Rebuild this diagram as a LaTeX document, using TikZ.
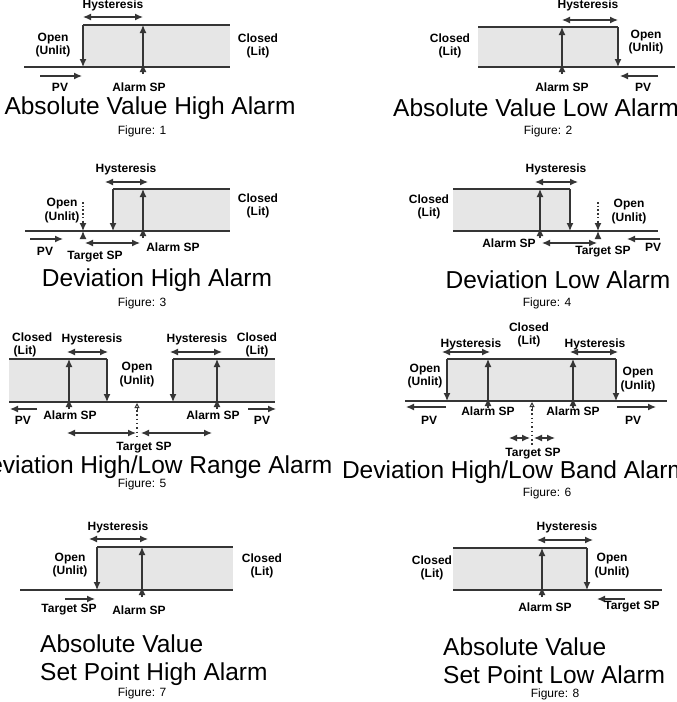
\documentclass[tikz,border=0pt]{standalone}
\usepackage{fontspec}
\setmainfont{Liberation Sans}
\usetikzlibrary{arrows.meta}
\definecolor{linegray}{HTML}{353535}
\definecolor{boxgray}{HTML}{E6E6E6}
\def\dline{\draw[line width=1.3pt,linegray]}
\def\darr{\draw[line width=1.3pt,linegray,-{Latex[length=8pt,width=7pt]}]}
\def\dhys{\draw[line width=1.3pt,linegray,{Latex[length=8pt,width=7pt]}-{Latex[length=8pt,width=7pt]}]}
\def\dbox{\fill[boxgray]}
% alarm SP: up from under the base line to the top
\newcommand\alarmsp[3]{\darr (#1,#2+7) -- (#1,#2-3); \darr (#1,#2) -- (#1,#3);}
% target SP on the base line
\newcommand\targetsp[2]{\draw[line width=1.3pt,linegray,dash pattern=on 1.5pt off 2.2pt] (#1,#2-29) -- (#1,#2-9);
  \darr (#1,#2-9) -- (#1,#2); \darr (#1,#2+7) -- (#1,#2);}
% open target mark under the base line
\newcommand\opentarget[3]{\draw[line width=1pt,linegray,-{Triangle[open,length=5pt,width=5pt]}] (#1,#2+8) -- (#1,#2+1);
  \draw[line width=1.3pt,linegray,dash pattern=on 1.5pt off 2.8pt] (#1,#2+8) -- (#1,#3);}
\begin{document}
\begin{tikzpicture}[x=1pt,y=-1pt,
    lbl/.style={font=\bfseries\fontsize{12}{13.5}\selectfont,inner sep=0pt,align=center},
    ttl/.style={font=\fontsize{24.5}{28}\selectfont,inner sep=0pt},
    fig/.style={font=\fontsize{12}{14}\selectfont,inner sep=0pt}]
\useasboundingbox[fill=white] (0,0) rectangle (677,702);

% Figure 1
\dbox (83,25) rectangle (230,67);
\dline (83,25) -- (230,25);
\dline (24,67) -- (230,67);
\darr (83,25) -- (83,67);
\alarmsp{143}{67}{25}
\dhys (83,17) -- (143,17);
\darr (40,76) -- (82,76);
\node[lbl] (hys1) at (113,5) {Hysteresis};
\node[lbl] (open1) at (53,45) {Open\\(Unlit)};
\node[lbl] (closed1) at (258,46) {Closed\\(Lit)};
\node[lbl] (pv1) at (60,87) {PV};
\node[lbl] (alarm1) at (139,87) {Alarm SP};
\node[ttl] (title1) at (150,108) {Absolute Value High Alarm};
\node[fig] (fig1) at (142,131) {Figure: 1};

% Figure 2
\dbox (478,27) rectangle (618,67);
\dline (478,27) -- (618,27);
\dline (478,67) -- (675,67);
\darr (618,27) -- (618,67);
\alarmsp{562}{67}{27}
\dhys (562,20) -- (618,20);
\darr (658,76) -- (620,76);
\node[lbl] (hys2) at (588,5) {Hysteresis};
\node[lbl] (closed2) at (450,46) {Closed\\(Lit)};
\node[lbl] (open2) at (646,42) {Open\\(Unlit)};
\node[lbl] (pv2) at (643,87) {PV};
\node[lbl] (alarm2) at (562,87) {Alarm SP};
\node[ttl] (title2) at (536,108) {Absolute Value Low Alarm};
\node[fig] (fig2) at (548,131) {Figure: 2};

% Figure 3
\dbox (113,189) rectangle (230,231);
\dline (113,189) -- (230,189);
\dline (25,231) -- (230,231);
\darr (113,189) -- (113,231);
\alarmsp{143}{231}{189}
\targetsp{83}{231}
\dhys (105,182) -- (148,182);
\dhys (85,243) -- (140,243);
\darr (30,239) -- (63,239);
\node[lbl] (hys3) at (126,169) {Hysteresis};
\node[lbl] (open3) at (62,210.5) {Open\\(Unlit)};
\node[lbl] (closed3) at (258,206) {Closed\\(Lit)};
\node[lbl] (pv3) at (45,251) {PV};
\node[lbl] (target3) at (95,257) {Target SP};
\node[lbl] (alarm3) at (173,247) {Alarm SP};
\node[ttl] (title3) at (157,280) {Deviation High Alarm};
\node[fig] (fig3) at (142,303) {Figure: 3};

% Figure 4
\dbox (453,189) rectangle (570,231);
\dline (453,189) -- (570,189);
\dline (453,231) -- (658,231);
\darr (570,189) -- (570,231);
\alarmsp{540}{231}{189}
\targetsp{598}{231}
\dhys (535,182) -- (578,182);
\dhys (542,243) -- (597,243);
\darr (660,239) -- (627,239);
\node[lbl] (hys4) at (556,169) {Hysteresis};
\node[lbl] (closed4) at (429,207) {Closed\\(Lit)};
\node[lbl] (open4) at (629,211.5) {Open\\(Unlit)};
\node[lbl] (alarm4) at (509,243) {Alarm SP};
\node[lbl] (target4) at (603,252) {Target SP};
\node[lbl] (pv4) at (653,247) {PV};
\node[ttl] (title4) at (558,280) {Deviation Low Alarm};
\node[fig] (fig4) at (547,303) {Figure: 4};

% Figure 5
\dbox (9,359) rectangle (107,402);
\dbox (173,359) rectangle (275,402);
\dline (9,359) -- (107,359);
\dline (173,359) -- (275,359);
\dline (9,402) -- (275,402);
\darr (107,359) -- (107,402);
\darr (173,359) -- (173,402);
\alarmsp{69}{402}{359}
\alarmsp{217}{402}{359}
\opentarget{137}{402}{438}
\dhys (67,352) -- (108,352);
\dhys (170,352) -- (222,352);
\dhys (67,433) -- (136,433);
\dhys (141,433) -- (212,433);
\darr (37,409) -- (10,409);
\darr (248,409) -- (276,409);
\node[lbl,align=left,anchor=west] (closed5a) at (12,345) {Closed\\\hspace{1.5pt}(Lit)};
\node[lbl] (closed5b) at (257,345) {Closed\\(Lit)};
\node[lbl] (hys5a) at (92,339) {Hysteresis};
\node[lbl] (hys5b) at (197,339) {Hysteresis};
\node[lbl] (open5) at (137,374.5) {Open\\(Unlit)};
\node[lbl] (alarm5a) at (70,415) {Alarm SP};
\node[lbl] (alarm5b) at (213,415) {Alarm SP};
\node[lbl] (pv5a) at (23,420) {PV};
\node[lbl] (pv5b) at (262,420) {PV};
\node[lbl] (target5) at (144,448) {Target SP};
\node[ttl] (title5) at (152,467) {Deviation High/Low Range Alarm};
\node[fig] (fig5) at (142,484) {Figure: 5};

% Figure 6
\dbox (447,359) rectangle (616,401);
\dline (447,359) -- (616,359);
\dline (405,401) -- (667,401);
\darr (447,359) -- (447,401);
\darr (616,359) -- (616,401);
\alarmsp{488}{401}{359}
\alarmsp{573}{401}{359}
\opentarget{532}{401}{447}
\dhys (442,352) -- (490,352);
\dhys (570,352) -- (618,352);
\dhys (509,438) -- (530,438);
\dhys (534,438) -- (555,438);
\darr (446,407) -- (406,407);
\darr (617,407) -- (656,407);
\node[lbl] (closed6) at (529,335) {Closed\\(Lit)};
\node[lbl] (hys6a) at (471,344) {Hysteresis};
\node[lbl] (hys6b) at (595,344) {Hysteresis};
\node[lbl] (open6a) at (425,376) {Open\\(Unlit)};
\node[lbl] (open6b) at (638,379.5) {Open\\(Unlit)};
\node[lbl] (alarm6a) at (488,411) {Alarm SP};
\node[lbl] (alarm6b) at (573,411) {Alarm SP};
\node[lbl] (pv6a) at (429,420) {PV};
\node[lbl] (pv6b) at (633,420) {PV};
\node[lbl] (target6) at (533,454) {Target SP};
\node[ttl] (title6) at (515,472) {Deviation High/Low Band Alarm};
\node[fig] (fig6) at (547,493) {Figure: 6};

% Figure 7
\dbox (97,547) rectangle (233,590);
\dline (97,547) -- (233,547);
\dline (20,590) -- (233,590);
\darr (97,547) -- (97,590);
\alarmsp{142}{590}{547}
\dhys (89,539) -- (148,539);
\darr (65,599) -- (95,599);
\node[lbl] (hys7) at (118,527) {Hysteresis};
\node[lbl] (open7) at (70,565) {Open\\(Unlit)};
\node[lbl] (closed7) at (262,566) {Closed\\(Lit)};
\node[lbl] (target7) at (69,610) {Target SP};
\node[lbl] (alarm7) at (139,610) {Alarm SP};
\node[ttl,align=left,anchor=west] (title7) at (40,660) {Absolute Value\\Set Point High Alarm};
\node[fig] (fig7) at (142,693) {Figure: 7};

% Figure 8
\dbox (453,548) rectangle (587,590);
\dline (453,548) -- (587,548);
\dline (453,590) -- (662,590);
\darr (587,548) -- (587,590);
\alarmsp{542}{590}{548}
\dhys (537,540) -- (593,540);
\darr (625,599) -- (597,599);
\node[lbl] (hys8) at (567,527) {Hysteresis};
\node[lbl] (closed8) at (432,568) {Closed\\(Lit)};
\node[lbl] (open8) at (612,565.5) {Open\\(Unlit)};
\node[lbl] (alarm8) at (545,607) {Alarm SP};
\node[lbl] (target8) at (632,607) {Target SP};
\node[ttl,align=left,anchor=west] (title8) at (443,661) {Absolute Value\\Set Point Low Alarm};
\node[fig] (fig8) at (555,694) {Figure: 8};
\end{tikzpicture}
\end{document}
